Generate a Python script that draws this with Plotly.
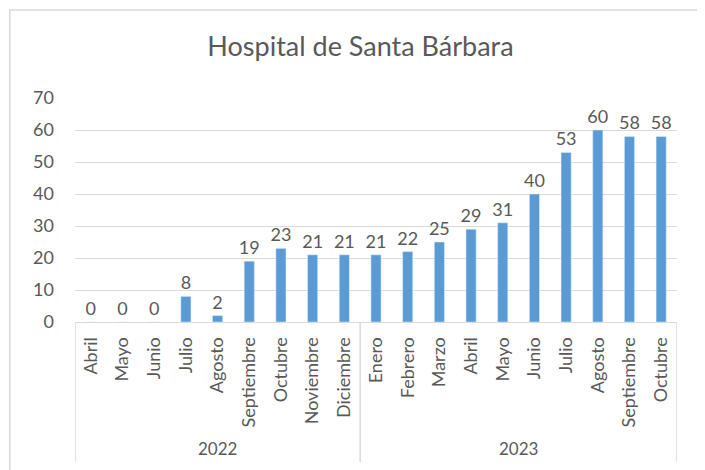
import plotly.graph_objects as go

# datos del gráfico
years = ['2022'] * 9 + ['2023'] * 10
months = ['Abril', 'Mayo', 'Junio', 'Julio', 'Agosto', 'Septiembre', 'Octubre', 'Noviembre', 'Diciembre',
          'Enero', 'Febrero', 'Marzo', 'Abril', 'Mayo', 'Junio', 'Julio', 'Agosto', 'Septiembre', 'Octubre']
values = [0, 0, 0, 8, 2, 19, 23, 21, 21,
          21, 22, 25, 29, 31, 40, 53, 60, 58, 58]
y_ticks = [0, 10, 20, 30, 40, 50, 60, 70]

font_name = 'Lato'
gray = '#595959'
line_gray = '#D9D9D9'

pos = list(range(len(months)))

fig = go.Figure()
fig.add_trace(go.Bar(x=pos, y=values,
                     marker_color='#5B9BD5',
                     text=values, textposition='outside', constraintext='none',
                     textfont=dict(size=18, color=gray, family=font_name),
                     cliponaxis=False, width=0.32))

# la página tiene 8px de margen en el body, se compensa aquí
fig.update_layout(
    width=705, height=470,
    paper_bgcolor='white', plot_bgcolor='white',
    margin=dict(l=67, r=36, t=90, b=156, autoexpand=False),
    showlegend=False,
    title=dict(text='Hospital de Santa Bárbara', x=0.5, xanchor='center', y=0.917, yanchor='middle',
               font=dict(size=27, color=gray, family=font_name)),
    font=dict(family=font_name, color=gray),
)

fig.update_yaxes(range=[0, 70], tickvals=y_ticks, showgrid=True, gridcolor=line_gray, gridwidth=1,
                 zeroline=False, showline=False, ticks='', automargin=False,
                 tickfont=dict(size=18, color=gray), ticklabelstandoff=20)
fig.update_xaxes(range=[-0.5, len(months) - 0.5], tickvals=pos, ticktext=months, tickangle=-90,
                 showline=True, linecolor=line_gray, linewidth=1, showgrid=False, zeroline=False,
                 ticks='', ticklabelstandoff=7, automargin=False,
                 tickfont=dict(size=18, color=gray))

# separadores y etiquetas de año
groups = []
for i, yr in enumerate(years):
    if not groups or groups[-1][0] != yr:
        groups.append([yr, i, i])
    else:
        groups[-1][2] = i

edges = [g[1] - 0.5 for g in groups] + [groups[-1][2] + 0.5]
for e in edges:
    fig.add_shape(type='line', xref='x', yref='paper', x0=e, x1=e, y0=0, y1=-0.625,
                  line=dict(color=line_gray, width=1.5))
for yr, a, b in groups:
    fig.add_annotation(x=(a + b) / 2, xref='x', y=-0.5625, yref='paper', text=yr, showarrow=False,
                       font=dict(size=17, color=gray, family=font_name), yanchor='middle')

# borde del gráfico
fig.add_shape(type='rect', xref='paper', yref='paper', x0=-0.1083, x1=1.0417, y0=-0.8, y1=1.393,
              line=dict(color=line_gray, width=1.5), layer='below')

fig.write_html('out.html')
